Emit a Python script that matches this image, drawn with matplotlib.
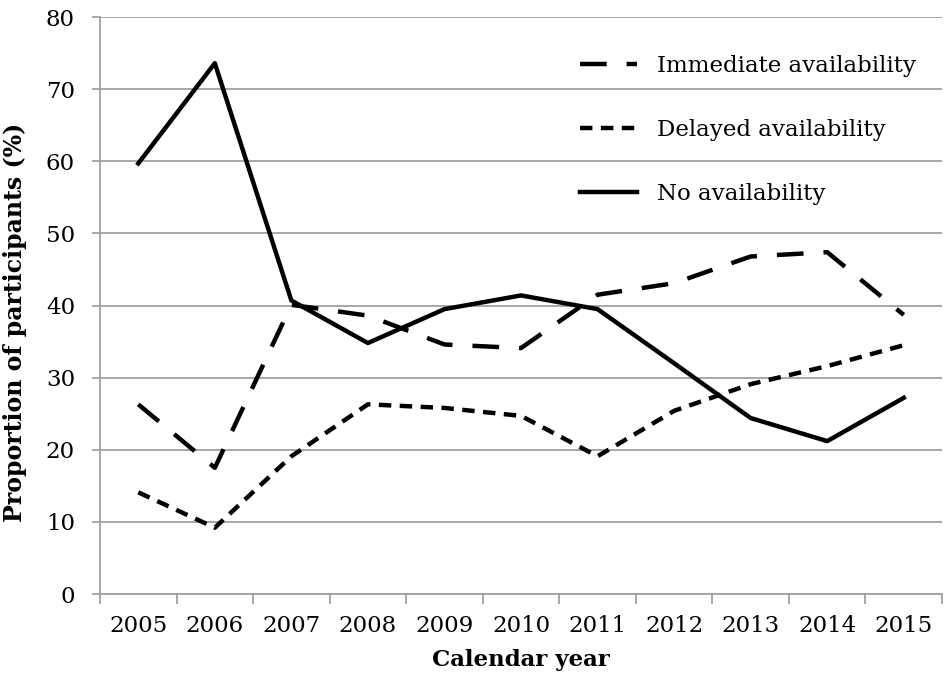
import matplotlib
matplotlib.use("Agg")
import matplotlib.pyplot as plt
from matplotlib.ticker import MultipleLocator, FixedLocator

years = ["2005", "2006", "2007", "2008", "2009", "2010", "2011", "2012", "2013", "2014", "2015"]
immediate = [26.3, 17.5, 40.1, 38.6, 34.6, 34.1, 41.5, 43.1, 46.8, 47.4, 38.7]
delayed = [14.1, 9.2, 19.1, 26.3, 25.8, 24.7, 19.1, 25.4, 29.1, 31.6, 34.5]
none = [59.7, 73.6, 40.7, 34.8, 39.5, 41.4, 39.5, 32.0, 24.4, 21.2, 27.2]

plt.rcParams['font.family'] = ['DejaVu Serif']

fig = plt.figure(figsize=(9.46, 6.82), dpi=100)
ax = fig.add_axes([0.1057, 0.129, 0.8901, 0.846])

x = list(range(len(years)))
lw = 3.2
ax.plot(x, immediate, color='black', lw=lw, dashes=(6.0, 4.5), label='Immediate availability')
ax.plot(x, delayed, color='black', lw=lw, dashes=(2.8, 1.9), label='Delayed availability')
ax.plot(x, none, color='black', lw=lw, label='No availability')

ax.set_xlim(-0.5, len(years) - 0.5)
ax.set_ylim(0, 80)
ax.yaxis.set_major_locator(MultipleLocator(10))
ax.grid(axis='y', color='#a0a0a0', lw=1.3)
ax.set_axisbelow(True)

fs = 16.5
ax.set_xticks(x)
ax.set_xticklabels(years)
ax.xaxis.set_minor_locator(FixedLocator([i - 0.5 for i in range(len(years) + 1)]))
ax.tick_params(axis='x', which='major', length=0, pad=15, labelsize=fs)
ax.tick_params(axis='x', which='minor', length=7, color='#a0a0a0', width=1.3)
ax.tick_params(axis='y', which='major', length=6, color='#a0a0a0', width=1.3, labelsize=fs, pad=12)

for s in ['top', 'right']:
    ax.spines[s].set_visible(False)
for s in ['left', 'bottom']:
    ax.spines[s].set_color('#a0a0a0')
    ax.spines[s].set_linewidth(1.3)

ax.set_ylabel('Proportion of participants (%)', fontsize=17, fontweight='bold', labelpad=6)
ax.yaxis.set_label_coords(-0.087, 0.47)
ax.set_xlabel('Calendar year', fontsize=fs, fontweight='bold', labelpad=9)

leg = ax.legend(loc='upper left', bbox_to_anchor=(0.570, 0.935), frameon=False, fontsize=fs,
                handlelength=2.5, handletextpad=0.85, labelspacing=1.85, borderaxespad=0,
                borderpad=0)

fig.savefig('out.png', dpi=100)
